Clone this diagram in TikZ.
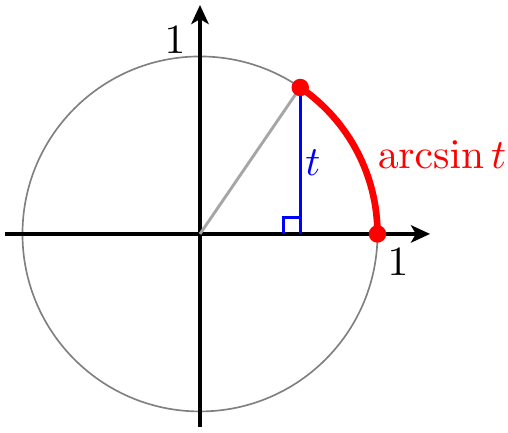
\documentclass[tikz,border=0pt]{standalone}
\usetikzlibrary{arrows.meta,calc}
\begin{document}
\begin{tikzpicture}[
  axis/.style={line width=0.75pt,-{Stealth[length=4.6pt,width=4.2pt,inset=1.2pt]}},
  dotmark/.style={fill=red,draw=none},
  lbl/.style={inner sep=0pt}
]
\useasboundingbox (-1.69,-1.682) rectangle (2.603,1.977);
\draw[gray,line width=0.4pt] (0,0) circle (1.5);
\coordinate (O) at (0,0);
\coordinate (P) at (55.6:1.5);
\coordinate (A) at (1.5,0);
\coordinate (F) at (P |- O);
\draw[axis] (-1.648,0) -- (1.944,0);
\draw[axis] (0,-1.63) -- (0,1.935);
\draw[gray!70,line width=0.7pt] (O) -- (P);
\draw[blue,line width=0.6pt] ($(F)+(-0.14,0)$) |- ++(0.14,0.14);
\draw[blue,line width=0.75pt] (F) -- (P);
\draw[red,line width=1.6pt] (A) arc (0:55.6:1.5);
\fill[dotmark] (P) circle (2.1pt);
\fill[dotmark] (A) circle (2.1pt);
\node[lbl] (one1) at (-0.21,1.64) {$1$};
\node[lbl] (one2) at (1.673,-0.237) {$1$};
\node[lbl,blue] (tl) at (0.955,0.6) {$t$};
\node[lbl,red] (arc) at (2.045,0.668) {$\arcsin t$};
\end{tikzpicture}
\end{document}
